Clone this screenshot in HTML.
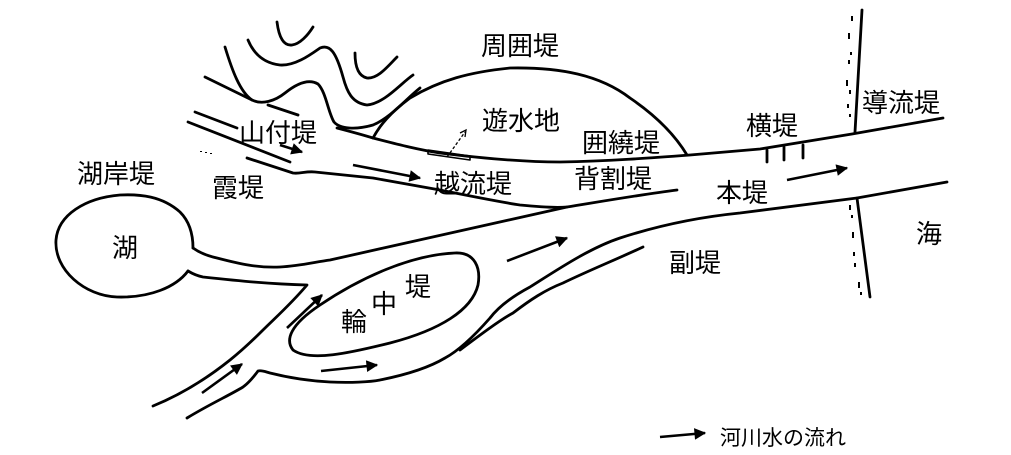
<!DOCTYPE html>
<html><head><meta charset="utf-8"><style>
html,body{margin:0;padding:0;background:#fff;}
svg{display:block;}
text{font-family:"Liberation Sans","Noto Sans CJK JP",sans-serif;fill:#000;font-size:26px;}
</style></head><body>
<svg width="1011" height="455" viewBox="0 0 1011 455" xmlns="http://www.w3.org/2000/svg">
<defs>
<marker id="a" viewBox="0 0 10 10" refX="9" refY="5" markerWidth="6" markerHeight="4.5" orient="auto" markerUnits="strokeWidth"><path d="M0,0 L10,5 L0,10 z" fill="#000"/></marker>
</defs>
<g fill="none" stroke="#000" stroke-width="2.8" stroke-linecap="round" stroke-linejoin="round">
<path d="M277,22 C279,38 284,46 292,45 C300,44 308,35 313,27"/>
<path d="M248,40 C253,52 262,63 280,65 C295,66 310,55 320,48 C330,44 336,52 343,77 C347,92 352,103 367,105 C385,103 400,84 413,75"/>
<path d="M355,53 C355,66 358,76 367,78 C378,79 388,66 397,57"/>
<path d="M225,47 C232,70 240,92 252,100 C262,105 275,101 285,93 C295,85 308,78 318,84 C326,92 328,112 334,122 C340,129 356,130 373,125 C390,118 405,100 420,88"/>
<path d="M205,77 L252,100"/>
<path d="M268,105 L298,115"/>
<path d="M373,138 C380,125 390,113 410,98 C440,80 470,72 510,68 C560,67 600,75 630,98 C655,115 675,135 687,155"/>
<path d="M337,128 C360,134 373,138 373,138 C400,145 420,150 440,153 C480,158 520,162 560,162 C610,161 650,158 690,155 L760,149 L852,134 L943,118"/>
<path d="M195,112 L237,128"/>
<path d="M188,122 L290,162"/>
<path d="M247,158 L293,173 C300,174 306,171 315,172 L373,178 L440,190 C470,196 500,202 520,205 C540,207 555,208 567,207 C610,200 645,194 677,190"/>
<path d="M193,248 C193,236 190,222 180,212 C162,196 140,194 120,195 C85,198 58,215 56,240 C54,270 85,296 117,297 C150,298 176,287 188,271"/>
<path d="M193,248 C200,253 208,256 217,258 C240,264 258,268 280,267 C300,266 315,262 330,260 L567,207"/>
<path d="M188,271 C193,274 198,276 203,277 C240,281 270,284 307,285 C290,305 275,318 263,330 C250,343 240,352 230,360 C205,380 180,395 153,406"/>
<path d="M187,418 C210,404 230,395 243,387 C250,382 255,375 258,371 C262,370 266,372 270,373 C290,378 310,381 330,382 C350,383 370,382 380,380 C410,374 430,367 445,358 C460,350 475,335 490,318 C500,305 515,295 530,287 C560,268 590,248 620,238 C660,225 700,217 740,213 L857,198 L947,182"/>
<path d="M460,350 C480,335 500,320 513,313 C530,300 545,290 563,283 C590,270 615,260 643,247"/>
<path d="M293,350 C285,340 290,325 320,305 C360,278 410,255 455,253 C475,252 481,268 478,285 C472,310 440,330 390,343 C350,353 310,362 293,350"/>
<path d="M428,150 L470,156 L470,160 L428,154 Z" stroke-width="1.6"/>
<path d="M767,150 L767,162 M784,147 L784,160 M803,145 L803,158"/>
<path d="M862,10 L855,132"/>
<path d="M857,198 L870,297"/>
</g>
<g fill="#000">
<rect x="851" y="16" width="2" height="5"/><rect x="848" y="33" width="2" height="6"/><rect x="850" y="52" width="2" height="3"/><rect x="848" y="60" width="2" height="4"/><rect x="846" y="80" width="2" height="6"/><rect x="849" y="90" width="2" height="4"/><rect x="847" y="104" width="2" height="4"/><rect x="849" y="114" width="2" height="3"/>
<rect x="849" y="205" width="2" height="5"/><rect x="851" y="215" width="2" height="3"/><rect x="852" y="232" width="2" height="6"/><rect x="853" y="252" width="2" height="4"/><rect x="854" y="263" width="2" height="4"/><rect x="858" y="282" width="2" height="6"/><rect x="860" y="292" width="2" height="3"/>
<rect x="200" y="151" width="2" height="1"/><rect x="205" y="152" width="2" height="1"/><rect x="210" y="153" width="2" height="1"/>
</g>
<g fill="none" stroke="#000" stroke-width="2.6" marker-end="url(#a)">
<path d="M280,145 L302,152"/>
<path d="M353,165 L420,178"/>
<path d="M787,180 L847,168"/>
<path d="M507,261 L567,238"/>
<path d="M287,328 L322,295"/>
<path d="M202,393 L242,364"/>
<path d="M321,371 L377,365"/>
<path d="M660,437 L705,433"/>
</g>
<path d="M447,157 L465,132" fill="none" stroke="#000" stroke-width="1.3" stroke-dasharray="3,2"/>
<path d="M460,133 L466,130 L465,137" fill="none" stroke="#000" stroke-width="1.3"/>
<text x="481" y="55">周囲堤</text>
<text x="482" y="130">遊水地</text>
<text x="582" y="152">囲繞堤</text>
<text x="746" y="135">横堤</text>
<text x="862" y="112">導流堤</text>
<text x="574" y="188">背割堤</text>
<text x="716" y="202">本堤</text>
<text x="669" y="272">副堤</text>
<text x="916" y="243">海</text>
<text x="434" y="193">越流堤</text>
<text x="239" y="142">山付堤</text>
<text x="212" y="197">霞堤</text>
<text x="77" y="183">湖岸堤</text>
<text x="112" y="257">湖</text>
<text x="341" y="331">輪</text>
<text x="371" y="313">中</text>
<text x="405" y="296">堤</text>
<text x="720" y="445" style="font-size:21px">河川水の流れ</text>
</svg>
</body></html>
